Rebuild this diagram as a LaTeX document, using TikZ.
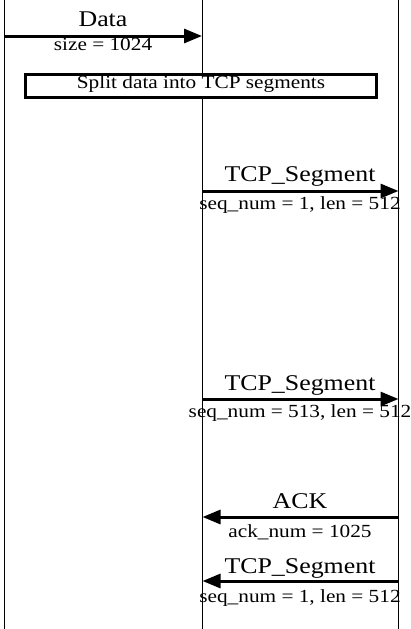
\documentclass[tikz,border=0pt]{standalone}
\usepackage{fontspec}
\usepackage{graphicx}
\setmainfont{Liberation Serif}
\usetikzlibrary{arrows.meta}
\newcommand\lblbig[1]{\scalebox{1.15}[1]{\fontsize{22.5}{26}\selectfont #1}}
\newcommand\lblsmall[1]{\scalebox{1.15}[1]{\fontsize{18.5}{22}\selectfont #1}}
\tikzset{
  lifeline/.style={line width=1pt, black},
  msg/.style={line width=3pt, -{Triangle[length=18pt,width=14pt]}},
  msgtext/.style={anchor=base, inner sep=0pt},
  notebox/.style={draw, fill=white, line width=2.8pt, inner sep=0pt, minimum width=351.7pt, minimum height=22.8pt, text height=12.6pt, text depth=8pt},
}
\begin{document}
\begin{tikzpicture}[x=1pt,y=-1pt]
\useasboundingbox (0,0) rectangle (411,629);
% lifelines
\coordinate (Lt) at (4,0);     \coordinate (Lb) at (4,629);
\coordinate (Mt) at (202,0);   \coordinate (Mb) at (202,629);
\coordinate (Rt) at (398.5,0); \coordinate (Rb) at (398.5,629);
\draw[lifeline] (Lt) -- (Lb);
\draw[lifeline] (Mt) -- (Mb);
\draw[lifeline] (Rt) -- (Rb);
% Data
\coordinate (d0) at (4,36); \coordinate (d1) at (202,36);
\draw[msg] (d0) -- (d1);
\node[msgtext] (dl) at (103,26) {\lblbig{Data}};
\node[msgtext] (ds) at (103,50) {\lblsmall{size = 1024}};
% note
\node[notebox] (split) at (201,86.1) {\lblsmall{Split data into TCP segments}};
% TCP 1
\coordinate (s1a) at (202,191); \coordinate (s1b) at (398.5,191);
\draw[msg] (s1a) -- (s1b);
\node[msgtext] (s1l) at (300,181) {\lblbig{TCP\_Segment}};
\node[msgtext] (s1s) at (300,209) {\lblsmall{seq\_num = 1, len = 512}};
% TCP 2
\coordinate (s2a) at (202,399); \coordinate (s2b) at (398.5,399);
\draw[msg] (s2a) -- (s2b);
\node[msgtext] (s2l) at (300,390) {\lblbig{TCP\_Segment}};
\node[msgtext] (s2s) at (300,417) {\lblsmall{seq\_num = 513, len = 512}};
% ACK
\coordinate (a0) at (398.5,517); \coordinate (a1) at (202.5,517);
\draw[msg] (a0) -- (a1);
\node[msgtext] (al) at (300,508) {\lblbig{ACK}};
\node[msgtext] (as) at (300,537) {\lblsmall{ack\_num = 1025}};
% TCP 3
\coordinate (s3a) at (398.5,581); \coordinate (s3b) at (202.5,581);
\draw[msg] (s3a) -- (s3b);
\node[msgtext] (s3l) at (300,573) {\lblbig{TCP\_Segment}};
\node[msgtext] (s3s) at (300,602) {\lblsmall{seq\_num = 1, len = 512}};
\end{tikzpicture}
\end{document}
